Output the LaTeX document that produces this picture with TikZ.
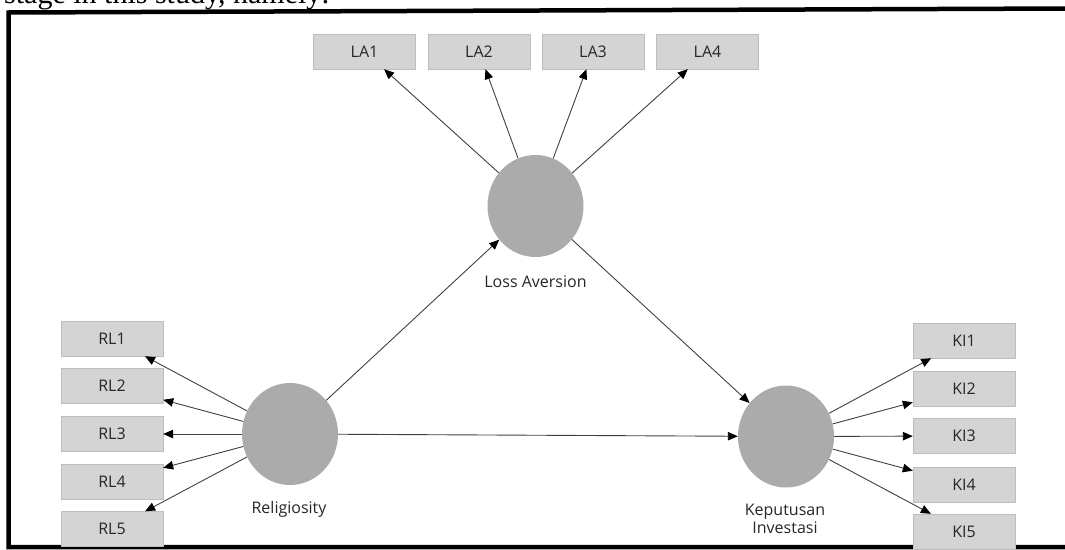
\documentclass[tikz,border=0pt]{standalone}
\usepackage{fontspec}
\setmainfont{Open Sans}
\newfontfamily\bodyserif{Liberation Serif}
\usetikzlibrary{arrows.meta,shapes.geometric}
\tikzset{
  item/.style={draw=black!26,fill=black!17,minimum width=102pt,minimum height=35pt,inner sep=0pt,text=black!85},
  latent/.style={ellipse,fill=black!33,minimum width=96pt,minimum height=102pt,inner sep=0pt},
  link/.style={draw=black!75,line width=0.9pt,-{Triangle[length=10pt,width=8.5pt,black]}},
  caption/.style={text=black!85,align=center}
}

\begin{document}
\begin{tikzpicture}[x=1pt,y=-1pt,font=\fontsize{16}{17.5}\selectfont]
  \useasboundingbox (0,0) rectangle (1065,549);
  % cut-off line of the page above the figure
  \node[anchor=base west,inner sep=0pt,font=\bodyserif\fontsize{30}{36}\selectfont] (intro) at (4,3.5) {stage in this study, namely:};
  \draw[line width=4.5pt] (1070,8.5) -- (8.5,12.5) -- (8.5,547) -- (1070,547);

  % latent variables
  \node[latent] (lossav) at (535.5,206) {};
  \node[latent] (relig) at (290,434) {};
  \node[latent] (keput) at (786,436.5) {};
  \node[caption] (lossavlab) at (535.5,282) {Loss Aversion};
  \node[caption] (religlab) at (289,509) {Religiosity};
  \node[caption,anchor=north] (keputlab) at (785,501) {Keputusan\\Investasi};

  % indicators
  \foreach \i/\x in {1/364.5,2/479,3/593,4/707.5}{
    \node[item] (la\i) at (\x,51.5) {LA\i};
    \draw[link] (lossav) -- (la\i);
  }
  \foreach \i/\y in {1/338.5,2/386,3/434,4/481.5,5/529}{
    \node[item] (rl\i) at (112,\y) {RL\i};
    \draw[link] (relig) -- (rl\i);
  }
  \foreach \i/\y in {1/340.5,2/388.5,3/436,4/484.5,5/531.5}{
    \node[item] (ki\i) at (964,\y) {KI\i};
    \draw[link] (keput) -- (ki\i);
  }

  % structural paths
  \draw[link] (relig) -- (lossav);
  \draw[link] (lossav) -- (keput);
  \draw[link] (relig) -- (keput);
\end{tikzpicture}
\end{document}
